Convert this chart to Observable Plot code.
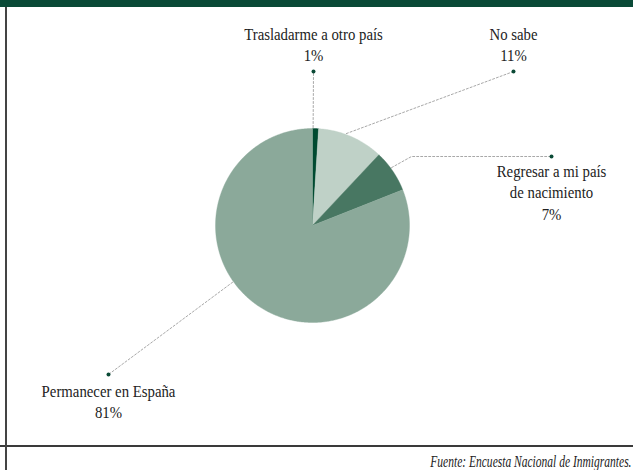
<!DOCTYPE html>
<html>
<head>
<meta charset="utf-8">
<script src="https://cdn.jsdelivr.net/npm/d3@7"></script>
<script src="https://cdn.jsdelivr.net/npm/@observablehq/plot@0.6"></script>
<style>
  html, body { margin: 0; padding: 0; background: #fff; }
  #wrap { position: relative; width: 633px; height: 470px; background: #fff; overflow: hidden; }
  #bar { height: 7px; background: #0a4a37; }
  #chart svg { display: block; }
  #caption { border-top: 2px solid #3a3a3a; height: 23px; box-sizing: border-box; text-align: right;
    font-family: "Liberation Serif", "Times New Roman", serif; font-style: italic; font-size: 16px; color: #222;
    padding-right: 2px; line-height: 30px; white-space: nowrap; }
  #caption span { display: inline-block; transform: scaleX(0.72); transform-origin: right center; }
  #leftrule { position: absolute; left: 5px; top: 7px; bottom: 0; width: 2px; background: #444; }
</style>
</head>
<body>
<div id="wrap">
  <div id="bar"></div>
  <div id="chart"></div>
  <div id="caption"><span>Fuente: Encuesta Nacional de Inmigrantes.</span></div>
  <div id="leftrule"></div>
</div>
<script>
// ---- data ----
const categories = ["Trasladarme a otro país", "No sabe", "Regresar a mi país de nacimiento", "Permanecer en España"];
const values = [1, 11, 7, 81];
const labelText = ["Trasladarme a otro país", "No sabe", "Regresar a mi país\nde nacimiento", "Permanecer en España"];
const pctText = ["1%", "11%", "7%", "81%"];

// ---- style / layout ----
const colors = ["#004a30", "#bfd1c7", "#487762", "#8ba99a"];
const SERIF = "'Liberation Serif', 'Times New Roman', serif";
const W = 633, TOP = 7, BOTTOM = 445;
const cx = 312, cy = 225, R = 97;
const annot = [
  {t: 0.1, elbow: null, dot: [313, 71], labelDy: -47},
  {t: 0.42, elbow: null, dot: [513, 71], labelDy: -47},
  {t: 0.42, elbow: [411, 156], dot: [551, 156], labelDy: 5},
  {t: 0.57, elbow: null, dot: [108, 374], labelDy: 7}
];

const arcs = d3.pie().sort(null).value(d => d)(values);
const pt = (a, r) => ({x: cx + r * Math.sin(a), y: cy - r * Math.cos(a)});

const slicePts = [];
arcs.forEach((a, i) => {
  const key = categories[i];
  slicePts.push({key, ...pt(0, 0)});
  const n = Math.max(2, Math.ceil((a.endAngle - a.startAngle) / 0.01));
  for (let k = 0; k <= n; k++) {
    const ang = a.startAngle + (a.endAngle - a.startAngle) * k / n;
    slicePts.push({key, ...pt(ang, R)});
  }
  slicePts.push({key, ...pt(0, 0)});
});

const leaderPts = [];
const dots = [];
const labels = [];
arcs.forEach((a, i) => {
  const key = categories[i];
  const an = annot[i];
  const ang = a.startAngle + (a.endAngle - a.startAngle) * an.t;
  leaderPts.push({key, ...pt(ang, R + 1)});
  if (an.elbow) leaderPts.push({key, x: an.elbow[0], y: an.elbow[1]});
  leaderPts.push({key, x: an.dot[0], y: an.dot[1]});
  dots.push({x: an.dot[0], y: an.dot[1]});
  labels.push({x: an.dot[0], y: an.dot[1] + an.labelDy, text: labelText[i] + "\n" + pctText[i]});
});

const plot = Plot.plot({
  width: W,
  height: BOTTOM - TOP,
  margin: 0,
  x: {domain: [0, W], range: [0, W], axis: null},
  y: {domain: [TOP, BOTTOM], range: [0, BOTTOM - TOP], axis: null},
  color: {domain: categories, range: colors},
  style: {background: "transparent", fontFamily: SERIF},
  marks: [
    Plot.line(leaderPts, {x: "x", y: "y", z: "key", stroke: "#a8a8a8", strokeWidth: 1, strokeDasharray: "2,2"}),
    Plot.line(slicePts, {x: "x", y: "y", z: "key", fill: "key", stroke: "key", strokeWidth: 0.4, curve: "linear"}),
    Plot.dot(dots, {x: "x", y: "y", r: 2, fill: "#0b4a36", stroke: null}),
    Plot.text(labels, {x: "x", y: "y", text: "text", lineAnchor: "top", fontSize: 17, lineHeight: 1.265, fontFamily: SERIF, fill: "#222", className: "lbl"})
  ]
});
// condense the label glyphs horizontally (the reference uses a narrow serif)
d3.select(plot).selectAll("g.lbl text").each(function() {
  const t = this.getAttribute("transform");
  if (t) this.setAttribute("transform", t + " scale(0.87,1)");
});
document.getElementById("chart").appendChild(plot);
</script>
</body>
</html>
